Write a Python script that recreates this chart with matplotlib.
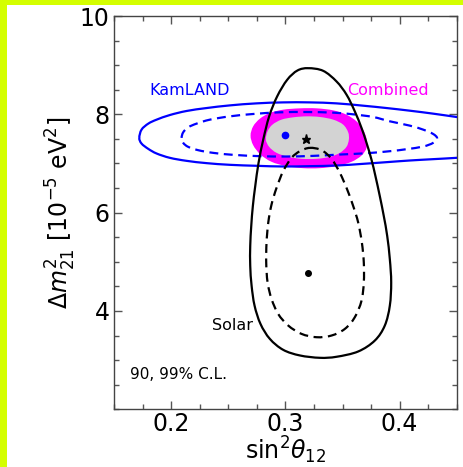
import numpy as np
import matplotlib
matplotlib.use('Agg')
import matplotlib.pyplot as plt
from matplotlib.patches import PathPatch, Rectangle
from matplotlib.path import Path
from matplotlib.ticker import MultipleLocator

# contour outlines in (sin^2 theta12, dm2_21 [1e-5 eV^2])
kam_99_x = [0.1719, 0.1739, 0.1798, 0.1871, 0.1987, 0.2133, 0.2309, 0.2513, 0.2746, 0.2980,
            0.3213, 0.3447, 0.3680, 0.3885, 0.4089, 0.4293, 0.4498, 0.4702, 0.4906, 0.5081,
            0.5139, 0.5081, 0.4906, 0.4702, 0.4498, 0.4293, 0.4089, 0.3885, 0.3680, 0.3447,
            0.3213, 0.2980, 0.2746, 0.2513, 0.2309, 0.2133, 0.1987, 0.1871, 0.1798, 0.1739]
kam_99_y = [7.520, 7.689, 7.811, 7.892, 7.986, 8.068, 8.128, 8.182, 8.223, 8.243,
            8.243, 8.223, 8.176, 8.128, 8.074, 8.014, 7.946, 7.878, 7.791, 7.635,
            7.486, 7.318, 7.203, 7.149, 7.115, 7.088, 7.061, 7.027, 6.993, 6.959,
            6.946, 6.939, 6.953, 6.973, 7.007, 7.054, 7.115, 7.203, 7.297, 7.405]

kam_90_x = [0.2090, 0.2104, 0.2148, 0.2221, 0.2338, 0.2513, 0.2717, 0.2951, 0.3184, 0.3418,
            0.3593, 0.3768, 0.3914, 0.4089, 0.4206, 0.4293, 0.4328, 0.4293, 0.4206, 0.4060,
            0.3914, 0.3710, 0.3476, 0.3243, 0.3009, 0.2776, 0.2542, 0.2367, 0.2236, 0.2148,
            0.2104]
kam_90_y = [7.520, 7.635, 7.736, 7.811, 7.892, 7.959, 8.007, 8.041, 8.047, 8.034,
            8.000, 7.946, 7.858, 7.770, 7.689, 7.601, 7.514, 7.419, 7.345, 7.291,
            7.250, 7.209, 7.182, 7.155, 7.142, 7.149, 7.176, 7.216, 7.270, 7.338,
            7.419]

comb_99_x = [0.2694, 0.2717, 0.2776, 0.2863, 0.2980, 0.3126, 0.3272, 0.3418, 0.3534, 0.3622,
             0.3680, 0.3710, 0.3710, 0.3666, 0.3578, 0.3447, 0.3301, 0.3155, 0.3009, 0.2878,
             0.2781, 0.2717]
comb_99_y = [7.568, 7.757, 7.912, 8.027, 8.095, 8.122, 8.122, 8.081, 7.993, 7.858,
             7.689, 7.500, 7.318, 7.162, 7.034, 6.946, 6.905, 6.905, 6.946, 7.034,
             7.182, 7.372]

comb_90_x = [0.2828, 0.2843, 0.2886, 0.2965, 0.3067, 0.3184, 0.3301, 0.3418, 0.3505, 0.3549,
             0.3555, 0.3534, 0.3476, 0.3389, 0.3272, 0.3140, 0.3024, 0.2922, 0.2857]
comb_90_y = [7.486, 7.655, 7.791, 7.892, 7.939, 7.959, 7.946, 7.892, 7.791, 7.635,
             7.486, 7.338, 7.216, 7.135, 7.095, 7.095, 7.135, 7.216, 7.338]

sol_99_x = [0.3199, 0.3330, 0.3447, 0.3535, 0.3607, 0.3666, 0.3710, 0.3753, 0.3788, 0.3826,
            0.3861, 0.3891, 0.3914, 0.3926, 0.3914, 0.3870, 0.3783, 0.3637, 0.3447, 0.3301,
            0.3126, 0.2980, 0.2863, 0.2781, 0.2729, 0.2703, 0.2691, 0.2691, 0.2700, 0.2714,
            0.2735, 0.2764, 0.2805, 0.2857, 0.2927, 0.3015, 0.3105]
sol_99_y = [8.939, 8.885, 8.669, 8.399, 8.061, 7.723, 7.419, 7.081, 6.743, 6.338,
            5.932, 5.527, 5.054, 4.581, 4.108, 3.703, 3.399, 3.176, 3.068, 3.047,
            3.095, 3.209, 3.432, 3.736, 4.108, 4.514, 4.919, 5.324, 5.730, 6.135,
            6.541, 7.014, 7.486, 7.959, 8.365, 8.703, 8.892]

sol_90_x = [0.3213, 0.3316, 0.3403, 0.3476, 0.3540, 0.3593, 0.3637, 0.3669, 0.3686, 0.3686,
            0.3666, 0.3607, 0.3520, 0.3403, 0.3272, 0.3140, 0.3024, 0.2936, 0.2878, 0.2843,
            0.2831, 0.2834, 0.2849, 0.2878, 0.2922, 0.2980, 0.3053, 0.3126]
sol_90_y = [7.318, 7.270, 7.095, 6.811, 6.473, 6.135, 5.797, 5.392, 4.986, 4.581,
            4.209, 3.872, 3.635, 3.500, 3.466, 3.534, 3.703, 3.939, 4.243, 4.581,
            4.986, 5.392, 5.797, 6.169, 6.507, 6.845, 7.115, 7.250]

# best fit points
kam_best = (0.300, 7.57)
comb_best = (0.318, 7.49)
sol_best = (0.320, 4.78)


def closed_curve(xs, ys):
    '''
    Closed cubic bezier path going through every outline point (catmull-rom handles)
    '''
    p = np.column_stack([xs, ys])
    n = len(p)
    verts = [p[0]]
    codes = [Path.MOVETO]
    for i in range(n):
        p0, p1, p2, p3 = p[i - 1], p[i], p[(i + 1) % n], p[(i + 2) % n]
        verts += [p1 + (p2 - p0) / 6., p2 - (p3 - p1) / 6., p2]
        codes += [Path.CURVE4] * 3
    return Path(verts, codes)


def outline(ax, xs, ys, **kw):
    patch = PathPatch(closed_curve(xs, ys), **kw)
    ax.add_patch(patch)
    return patch


fig = plt.figure(figsize=(4.64, 4.67), dpi=100, facecolor='white')
border = '#d4ff00'
fig.add_artist(Rectangle((0, 0), 7 / 464, 1, transform=fig.transFigure,
                         facecolor=border, edgecolor='none', zorder=0))
fig.add_artist(Rectangle((0, 1 - 5 / 467), 1, 5 / 467, transform=fig.transFigure,
                         facecolor=border, edgecolor='none', zorder=0))
ax = fig.add_axes([0.2463, 0.1236, 0.738, 0.8421])

outline(ax, comb_99_x, comb_99_y, facecolor='magenta', edgecolor='none', zorder=1)
outline(ax, comb_90_x, comb_90_y, facecolor='lightgray', edgecolor='none', zorder=2)

outline(ax, kam_99_x, kam_99_y, fill=False, edgecolor='blue', lw=1.6, zorder=3)
outline(ax, kam_90_x, kam_90_y, fill=False, edgecolor='blue', lw=1.6, ls=(0, (4, 2.5)), zorder=3)
outline(ax, sol_99_x, sol_99_y, fill=False, edgecolor='black', lw=1.6, zorder=4)
outline(ax, sol_90_x, sol_90_y, fill=False, edgecolor='black', lw=1.6, ls=(0, (4, 2.5)), zorder=4)

ax.plot(*kam_best, 'o', color='blue', ms=4.5, zorder=5)
ax.plot(*comb_best, '*', color='black', ms=6.5, zorder=5)
ax.plot(*sol_best, 'o', color='black', ms=4, zorder=5)

ax.text(0.181, 8.48, 'KamLAND', color='blue', fontsize=11.5, va='center')
ax.text(0.354, 8.48, 'Combined', color='magenta', fontsize=11.5, va='center')
ax.text(0.236, 3.71, 'Solar', color='black', fontsize=11.5, va='center')
ax.text(0.164, 2.70, '90, 99% C.L.', color='black', fontsize=11, va='center')

ax.set_xlim(0.15, 0.45)
ax.set_ylim(2, 10)
ax.set_xticks([0.2, 0.3, 0.4])
ax.set_yticks([4, 6, 8, 10])
ax.xaxis.set_minor_locator(MultipleLocator(0.025))
ax.yaxis.set_minor_locator(MultipleLocator(0.5))
ax.tick_params(which='both', direction='in', top=True, right=True,
               color='#555555', width=1, labelsize=17)
ax.tick_params(which='major', length=6)
ax.tick_params(which='minor', length=3.5)
ax.tick_params(axis='x', pad=2)
for sp in ax.spines.values():
    sp.set_color('#444444')
    sp.set_linewidth(1)

ax.set_xlabel(r'$\mathrm{sin}^2\theta_{12}$', fontsize=17, labelpad=-1)
ax.set_ylabel(r'$\Delta m^2_{21}\ [10^{-5}\ \mathrm{eV}^2]$', fontsize=17, labelpad=1)

fig.savefig('out.png', dpi=100, facecolor=fig.get_facecolor())
